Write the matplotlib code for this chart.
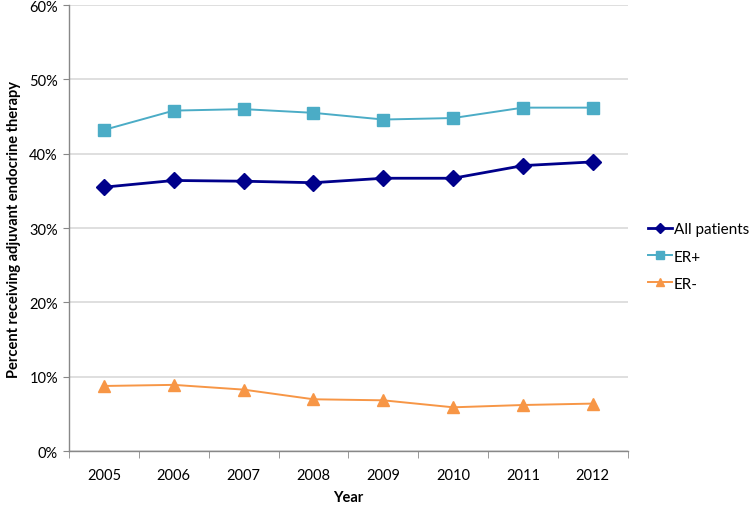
import matplotlib
matplotlib.use('Agg')
import matplotlib.pyplot as plt
from matplotlib.ticker import FixedLocator, FuncFormatter

years = ['2005', '2006', '2007', '2008', '2009', '2010', '2011', '2012']
all_patients = [35.5, 36.4, 36.3, 36.1, 36.7, 36.7, 38.4, 38.9]
er_pos = [43.2, 45.8, 46.0, 45.5, 44.6, 44.8, 46.2, 46.2]
er_neg = [8.75, 8.9, 8.26, 6.96, 6.82, 5.88, 6.19, 6.38]

plt.rcParams['font.family'] = ['Lato', 'DejaVu Sans']

fig = plt.figure(figsize=(7.5, 5.06), dpi=100)
ax = fig.add_axes([0.092, 0.1067, 0.745, 0.8813])

x = range(len(years))
ax.plot(x, all_patients, color='#00008B', lw=2.0, marker='D', ms=8, label='All patients', zorder=5)
ax.plot(x, er_pos, color='#4BACC6', lw=1.4, marker='s', ms=9, label='ER+', zorder=4)
ax.plot(x, er_neg, color='#F79646', lw=1.4, marker='^', ms=9, label='ER-', zorder=4)

ax.set_xlim(-0.5, len(years) - 0.5)
ax.set_ylim(0, 60)
ax.set_yticks(range(0, 61, 10))
ax.yaxis.set_major_formatter(FuncFormatter(lambda v, p: '%d%%' % v))
ax.set_xticks(list(x))
ax.set_xticklabels(years)
ax.xaxis.set_minor_locator(FixedLocator([i - 0.5 for i in range(len(years) + 1)]))
ax.tick_params(axis='x', which='major', length=0, pad=12, labelsize=10.5)
ax.tick_params(axis='x', which='minor', length=5, color='#888888', direction='out')
ax.tick_params(axis='y', length=4, color='#888888', labelsize=10.5, pad=4)

ax.grid(axis='y', color='#d9d9d9', lw=1.2)
ax.set_axisbelow(True)
for s in ['top', 'right']:
    ax.spines[s].set_visible(False)
for s in ['left', 'bottom']:
    ax.spines[s].set_color('#888888')
    ax.spines[s].set_linewidth(1.0)

ax.set_xlabel('Year', fontweight='bold', fontsize=10.5, labelpad=6)
ax.set_ylabel('Percent receiving adjuvant endocrine therapy', fontweight='bold', fontsize=10.5, labelpad=6)

fig.legend(loc='center left', bbox_to_anchor=(0.864, 0.491), frameon=False,
           fontsize=11, handlelength=1.57, handletextpad=0.1, labelspacing=0.86,
           borderaxespad=0, borderpad=0, markerscale=0.7)

fig.savefig('out.png', dpi=100)
